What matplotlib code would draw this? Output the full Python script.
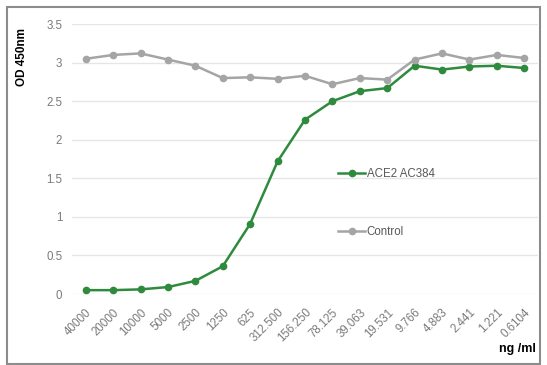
import matplotlib.pyplot as plt
from matplotlib.patches import Rectangle
from matplotlib.transforms import ScaledTranslation

concentrations = ["40000", "20000", "10000", "5000", "2500", "1250", "625",
                  "312.500", "156.250", "78.125", "39.063", "19.531", "9.766",
                  "4.883", "2.441", "1.221", "0.6104"]
ace2_ac384 = [0.05, 0.05, 0.06, 0.09, 0.17, 0.36, 0.91, 1.72, 2.26, 2.50,
              2.63, 2.67, 2.96, 2.91, 2.95, 2.96, 2.93]
control = [3.05, 3.10, 3.12, 3.04, 2.96, 2.80, 2.81, 2.79, 2.83, 2.72,
           2.80, 2.78, 3.04, 3.12, 3.04, 3.10, 3.06]

plt.rcParams['font.family'] = ['Liberation Sans', 'DejaVu Sans']

fig = plt.figure(figsize=(5.47, 3.65), dpi=100)
ax = fig.add_axes([0.1316, 0.1945, 0.852, 0.7395])

x = list(range(len(concentrations)))
green = '#2E8B3E'
gray = '#A5A5A5'
l1, = ax.plot(x, ace2_ac384, color=green, lw=1.8, marker='o', ms=4.5,
              label='ACE2 AC384', zorder=3)
l2, = ax.plot(x, control, color=gray, lw=1.8, marker='o', ms=4.5,
              label='Control', zorder=3)

ax.set_xlim(-0.5, len(concentrations) - 0.5)
ax.set_ylim(0, 3.5)
ax.set_yticks([0, 0.5, 1, 1.5, 2, 2.5, 3, 3.5])
ax.set_yticklabels(['0', '0.5', '1', '1.5', '2', '2.5', '3', '3.5'])
ax.set_xticks(x)
ax.set_xticklabels(concentrations, rotation=45, ha='right', va='top',
                   rotation_mode='anchor')
shift = ScaledTranslation(-4 / 100, 0, fig.dpi_scale_trans)
for lbl in ax.get_xticklabels():
    lbl.set_transform(lbl.get_transform() + shift)
ax.tick_params(axis='both', length=0, labelsize=8.3, colors='#7A7A7A')
ax.tick_params(axis='x', pad=9)
ax.tick_params(axis='y', pad=7)
ax.grid(axis='y', color='#E6E6E6', lw=1)
ax.set_axisbelow(True)
for s in ax.spines.values():
    s.set_visible(False)

leg = ax.legend(handles=[l1, l2], loc='upper left',
                bbox_to_anchor=(0.558, 0.487), frameon=False, fontsize=8.3,
                labelspacing=4.0, handlelength=2.4, handletextpad=0.1,
                borderpad=0)
for t in leg.get_texts():
    t.set_color('#595959')

fig.text(22 / 547, 1 - 57 / 365, 'OD 450nm', rotation=90, ha='center',
         va='center', fontsize=8.5, fontweight='bold')
fig.text(517 / 547, 1 - 349 / 365, 'ng /ml', ha='center', va='center',
         fontsize=9, fontweight='bold')

fig.add_artist(Rectangle((7 / 547, 1 / 365), 533 / 547, 357 / 365,
                         transform=fig.transFigure, fill=False,
                         edgecolor='#8C8C8C', lw=1.5))

fig.savefig('out.png', dpi=100)
